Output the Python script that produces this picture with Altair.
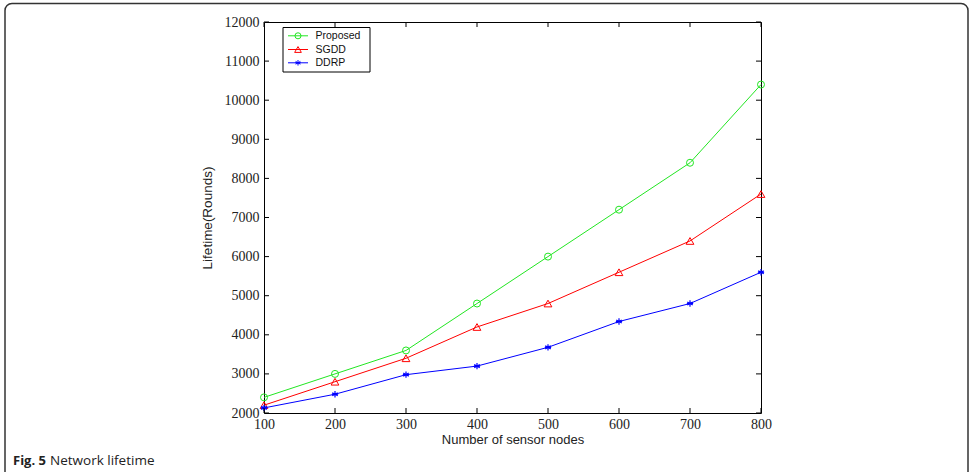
import altair as alt
import pandas as pd

# Network lifetime (rounds) versus number of sensor nodes
nodes = [100, 200, 300, 400, 500, 600, 700, 800]
proposed = [2400, 3000, 3600, 4800, 6000, 7200, 8400, 10400]
sgdd = [2200, 2800, 3400, 4200, 4800, 5600, 6400, 7600]
ddrp = [2130, 2480, 2980, 3200, 3680, 4340, 4800, 5600]

series_names = ["Proposed", "SGDD", "DDRP"]
series_values = [proposed, sgdd, ddrp]
series_colors = ["#22e622", "#ff0000", "#0000ff"]
# asterisk marker path (unit coordinates)
ASTERISK = "M0,-1L0,1M-0.87,-0.5L0.87,0.5M-0.87,0.5L0.87,-0.5M-1,0L1,0"
series_shapes = ["circle", "triangle-up", ASTERISK]
series_sizes = [49, 60, 40]

x_ticks = [100, 200, 300, 400, 500, 600, 700, 800]
y_ticks = [2000, 3000, 4000, 5000, 6000, 7000, 8000, 9000, 10000, 11000, 12000]

W, H = 497, 391
PAD_L, PAD_T = 264, 22
PAD_R = 971 - PAD_L - W
PAD_B = 472 - PAD_T - H

x_scale = alt.Scale(domain=[100, 800], nice=False, zero=False)
y_scale = alt.Scale(domain=[2000, 12000], nice=False, zero=False)

x_axis = alt.Axis(
    values=x_ticks, format="d", title="Number of sensor nodes",
    domain=False, grid=False, ticks=True, tickSize=0,
    labelFont="Liberation Serif", labelFontSize=14, labelColor="#222",
    labelPadding=4, labelFlush=False,
    titleFont="Liberation Sans", titleFontSize=13, titleFontWeight="normal",
    titleColor="#222", titlePadding=2,
)
y_axis = alt.Axis(
    values=y_ticks, format="d", title="Lifetime(Rounds)",
    domain=False, grid=False, ticks=True, tickSize=0,
    labelFont="Liberation Serif", labelFontSize=14, labelColor="#222",
    labelPadding=5, labelFlush=False,
    titleFont="Liberation Sans", titleFontSize=13.5, titleFontWeight="normal",
    titleColor="#222", titlePadding=10,
)

X = alt.X("nodes:Q", scale=x_scale, axis=x_axis)
Y = alt.Y("lifetime:Q", scale=y_scale, axis=y_axis)

rows = []
for name, vals in zip(series_names, series_values):
    for n, v in zip(nodes, vals):
        rows.append({"series": name, "nodes": n, "lifetime": v})
df = pd.DataFrame(rows)

layers = []
for name, color, shape, size in zip(series_names, series_colors, series_shapes, series_sizes):
    sub = alt.Chart(df).transform_filter(alt.datum.series == name)
    layers.append(sub.mark_line(color=color, strokeWidth=1).encode(x=X, y=Y))
    layers.append(sub.mark_point(
        shape=shape, filled=False, color=color, size=size,
        strokeWidth=1.2 if name == "DDRP" else 1, opacity=1,
    ).encode(x=X, y=Y))

# inward tick marks on all four sides of the box
xt = pd.DataFrame({"nodes": x_ticks})
yt = pd.DataFrame({"lifetime": y_ticks})
TK = 5
tick_style = dict(color="black", strokeWidth=1)
layers.append(alt.Chart(xt).mark_rule(**tick_style).encode(
    x=X, y=alt.value(H), y2=alt.value(H - TK)))
layers.append(alt.Chart(xt).mark_rule(**tick_style).encode(
    x=X, y=alt.value(0), y2=alt.value(TK)))
layers.append(alt.Chart(yt).mark_rule(**tick_style).encode(
    y=Y, x=alt.value(0), x2=alt.value(TK)))
layers.append(alt.Chart(yt).mark_rule(**tick_style).encode(
    y=Y, x=alt.value(W), x2=alt.value(W - TK)))

# legend box
one = pd.DataFrame({"k": [0]})
LX0, LX1, LY0, LY1 = 19, 106, 5.5, 50
layers.append(alt.Chart(one).mark_rect(fill="white", stroke="black", strokeWidth=1).encode(
    x=alt.value(LX0), x2=alt.value(LX1), y=alt.value(LY0), y2=alt.value(LY1)))
row_y = [13.8, 27.5, 40.8]
for name, color, shape, size, ry in zip(series_names, series_colors, series_shapes, series_sizes, row_y):
    lg = alt.Chart(pd.DataFrame({"series": [name]}))
    layers.append(lg.mark_rule(color=color, strokeWidth=1).encode(
        x=alt.value(24), x2=alt.value(44), y=alt.value(ry)))
    layers.append(lg.mark_point(shape=shape, filled=False, color=color,
                                size=size * 0.75, strokeWidth=1, opacity=1).encode(
        x=alt.value(34), y=alt.value(ry)))
    layers.append(lg.mark_text(align="left", baseline="middle", font="Liberation Sans",
                               fontSize=10.5, color="#111").encode(
        x=alt.value(51.5), y=alt.value(ry), text="series:N"))

# figure frame and caption
layers.append(alt.Chart(one).mark_rect(fill="transparent", stroke="#333", strokeWidth=1.5,
                                       cornerRadius=7).encode(
    x=alt.value(5 - PAD_L), x2=alt.value(968 - PAD_L),
    y=alt.value(3.5 - PAD_T), y2=alt.value(490 - PAD_T)))
cap_y = 465 - PAD_T
layers.append(alt.Chart(pd.DataFrame({"t": ["Fig. 5"]})).mark_text(
    align="left", baseline="alphabetic", font="Open Sans", fontWeight="bold",
    fontSize=13, color="#222").encode(
    x=alt.value(13 - PAD_L), y=alt.value(cap_y), text="t:N"))
layers.append(alt.Chart(pd.DataFrame({"t": ["Network lifetime"]})).mark_text(
    align="left", baseline="alphabetic", font="Open Sans", fontSize=13.5,
    color="#222").encode(
    x=alt.value(50 - PAD_L), y=alt.value(cap_y), text="t:N"))

chart = alt.layer(*layers).properties(
    width=W, height=H,
    autosize=alt.AutoSizeParams(type="none"),
    padding={"left": PAD_L, "top": PAD_T, "right": PAD_R, "bottom": PAD_B},
    background="white",
).configure_view(stroke="black", strokeWidth=1)

chart.save("out.html", embed_options={"renderer": "svg", "actions": False})
